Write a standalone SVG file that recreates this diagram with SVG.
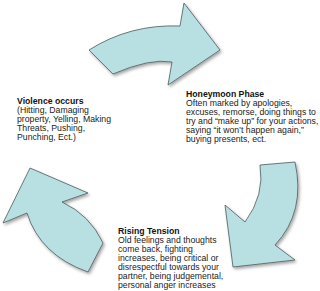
<svg xmlns="http://www.w3.org/2000/svg" width="320" height="291" viewBox="0 0 320 291">
  <defs>
    <filter id="shadow" x="-20%" y="-20%" width="140%" height="140%">
      <feDropShadow dx="1.5" dy="2" stdDeviation="1.5" flood-color="#000" flood-opacity="0.35"/>
    </filter>
  </defs>
  <style>
    .arrow { fill: #b8dfe2; stroke: #4d5b5d; stroke-width: 0.8; stroke-linejoin: miter; filter: url(#shadow); }
    .head { font-family: "Liberation Sans", Arial, sans-serif; font-weight: bold; font-size: 8.7px; fill: #111; }
    .body { font-family: "Liberation Sans", Arial, sans-serif; font-size: 8.7px; fill: #222; }
  </style>
  <rect width="320" height="291" fill="#ffffff"/>
  <g id="connectors">
    <path id="arrow-top" class="arrow" d="M89,50 Q130,24 180,26 L184,3 L220,50 L168,85 L172,62 Q150,58 113,74 Z"/>
    <path id="arrow-right" class="arrow" d="M260,165 L295,162 Q306,212 275,245 L295,260 L233,267 L225,205 L245,222 Q265,195 260,165 Z"/>
    <path id="arrow-left" class="arrow" d="M30,168 L88,193 L62,202 Q90,215 103,243 L88,272 Q40,255 27,213 L3,223 Z"/>
  </g>
  <g id="violence">
    <text class="head" x="17" y="104">Violence occurs</text>
    <text class="body" x="17" y="113">(Hitting, Damaging</text>
    <text class="body" x="17" y="122">property, Yelling, Making</text>
    <text class="body" x="17" y="131">Threats, Pushing,</text>
    <text class="body" x="17" y="140">Punching, Ect.)</text>
  </g>
  <g id="honeymoon">
    <text class="head" x="186" y="97">Honeymoon Phase</text>
    <text class="body" x="186" y="106">Often marked by apologies,</text>
    <text class="body" x="186" y="115">excuses, remorse, doing things to</text>
    <text class="body" x="186" y="124">try and “make up” for your actions,</text>
    <text class="body" x="186" y="133">saying “it won’t happen again,”</text>
    <text class="body" x="186" y="142">buying presents, ect.</text>
  </g>
  <g id="rising">
    <text class="head" x="118" y="234">Rising Tension</text>
    <text class="body" x="118" y="243">Old feelings and thoughts</text>
    <text class="body" x="118" y="252">come back, fighting</text>
    <text class="body" x="118" y="261">increases, being critical or</text>
    <text class="body" x="118" y="270">disrespectful towards your</text>
    <text class="body" x="118" y="279">partner, being judgemental,</text>
    <text class="body" x="118" y="288">personal anger increases</text>
  </g>
</svg>
